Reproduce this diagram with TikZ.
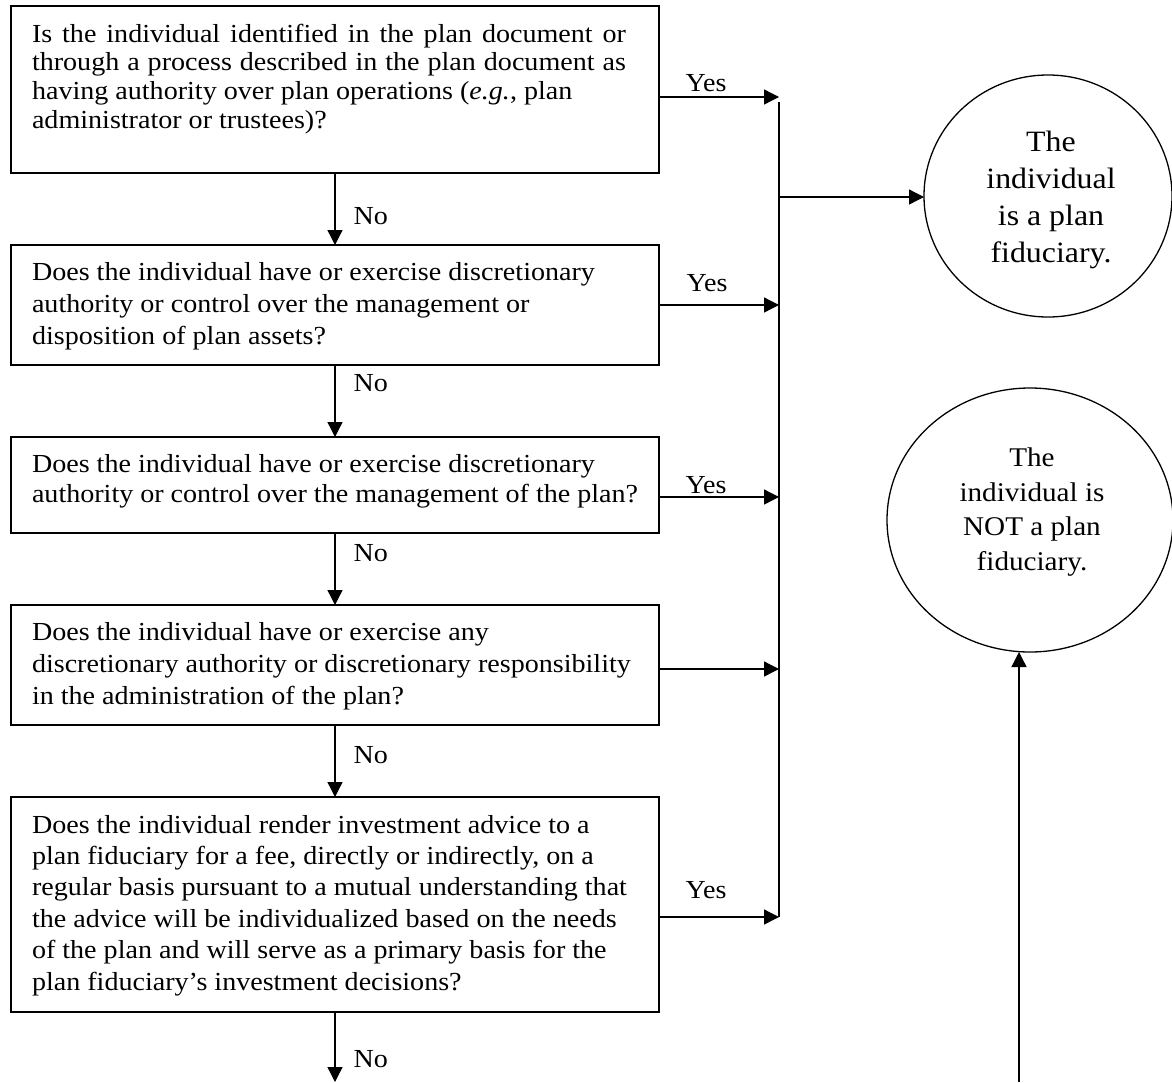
\documentclass[tikz,border=0pt]{standalone}
\usepackage{fontspec}
\setmainfont{Liberation Serif}[FakeStretch=1.08]
\usetikzlibrary{arrows.meta,shapes.geometric}
\newcommand\qtext[4]{\parbox[t][#1][t]{606pt}{\fontsize{26}{#2}\selectfont\raggedright\rule{0pt}{#3}\ignorespaces#4}}
\begin{document}
\begin{tikzpicture}[x=1pt,y=-1pt,
  line width=1.3pt,
  qbox/.style={draw, anchor=north west, inner xsep=21pt, inner ysep=0pt, outer sep=0pt},
  lbl/.style={font=\fontsize{26}{30}\selectfont, inner sep=0pt},
  arr/.style={-{Triangle[length=15pt,width=15pt]}},
  oval/.style={draw, ellipse, inner sep=0pt, outer sep=0pt, align=center}]
\useasboundingbox (0,0) rectangle (1172,1082);

% question boxes
\node[qbox] (b1) at (11,6) {\qtext{167pt}{28.7pt}{36pt}{\makebox[594pt][s]{Is the individual identified in the plan document or}\\
\makebox[594pt][s]{through a process described in the plan document as}\\
having authority over plan operations (\textit{e.g.}, plan\\
administrator or trustees)?}};
\node[qbox] (b2) at (11,245) {\qtext{120pt}{32pt}{35pt}{Does the individual have or exercise discretionary\\
authority or control over the management or\\
disposition of plan assets?}};
\node[qbox] (b3) at (11,437) {\qtext{96pt}{30pt}{35pt}{Does the individual have or exercise discretionary\\
authority or control over the management of the plan?}};
\node[qbox] (b4) at (11,605) {\qtext{120pt}{32pt}{35pt}{Does the individual have or exercise any\\
discretionary authority or discretionary responsibility\\
in the administration of the plan?}};
\node[qbox] (b5) at (11,797) {\qtext{215pt}{31.4pt}{36pt}{Does the individual render investment advice to a\\
plan fiduciary for a fee, directly or indirectly, on a\\
regular basis pursuant to a mutual understanding that\\
the advice will be individualized based on the needs\\
of the plan and will serve as a primary basis for the\\
plan fiduciary’s investment decisions?}};

% outcome ovals
\node[oval, minimum width=248pt, minimum height=242pt] (c1) at (1048,196) {};
\node[font=\fontsize{29.5}{37}\selectfont, align=center, inner sep=0pt] (c1t) at (1051,200)
      {The\\individual\\is a plan\\fiduciary.};
\node[oval, minimum width=286pt, minimum height=264pt] (c2) at (1030,520) {};
\node[font=\fontsize{27}{34.5}\selectfont, align=center, inner sep=0pt] (c2t) at (1032,512)
      {The\\individual is\\NOT a plan\\fiduciary.};

% No arrows
\draw[arr] (b1.south) -- (b2.north);
\draw[arr] (b2.south) -- (b3.north);
\draw[arr] (b3.south) -- (b4.north);
\draw[arr] (b4.south) -- (b5.north);
\coordinate (endno) at (335,1082);
\draw[arr] (b5.south) -- (endno);

\node[lbl, anchor=west] (n1) at (353,216) {No};
\node[lbl, anchor=west] (n2) at (353,383) {No};
\node[lbl, anchor=west] (n3) at (353,553) {No};
\node[lbl, anchor=west] (n4) at (353,755) {No};
\node[lbl, anchor=west] (n5) at (353,1059) {No};

% Yes arrows to the collector line
\coordinate (j0) at (779,102);
\coordinate (y1) at (779,97);
\coordinate (y2) at (779,305);
\coordinate (y3) at (779,497);
\coordinate (y4) at (779,669);
\coordinate (y5) at (779,917);
\draw (j0) -- (y5);
\draw[arr] (b1.east |- y1) -- (y1);
\draw[arr] (b2.east |- y2) -- (y2);
\draw[arr] (b3.east |- y3) -- (y3);
\draw[arr] (b4.east |- y4) -- (y4);
\draw[arr] (b5.east |- y5) -- (y5);

\node[lbl] (yes1) at (706,83) {Yes};
\node[lbl] (yes2) at (707,283) {Yes};
\node[lbl] (yes3) at (706,485) {Yes};
\node[lbl] (yes5) at (706,890) {Yes};

% to the outcomes
\coordinate (m) at (779,197);
\draw[arr] (m) -- (m -| c1.west);
\coordinate (nb) at (1019,1082);
\draw[arr] (nb) -- (nb |- c2.south);
\end{tikzpicture}
\end{document}
